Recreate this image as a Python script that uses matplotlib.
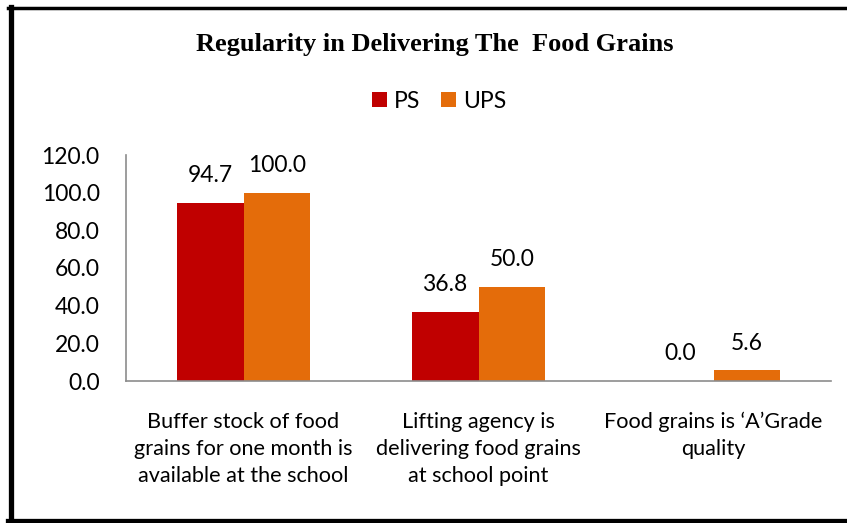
import matplotlib
matplotlib.use("Agg")
import matplotlib.pyplot as plt
from matplotlib.lines import Line2D
import numpy as np

categories = ["Buffer stock of food\ngrains for one month is\navailable at the school",
              "Lifting agency is\ndelivering food grains\nat school point",
              "Food grains is \u2018A\u2019Grade\nquality"]
ps = [94.7, 36.8, 0.0]
ups = [100.0, 50.0, 5.6]
yticks = [0, 20, 40, 60, 80, 100, 120]

red = "#C00000"
orange = "#E46C0A"
font = "Lato"

fig = plt.figure(figsize=(8.47, 5.23), dpi=100)
ax = fig.add_axes([126/847, 1 - 381/523, 705/847, 226/523])

x = np.arange(len(categories))
w = 0.285
b1 = ax.bar(x - w/2, ps, w, color=red, label="PS")
b2 = ax.bar(x + w/2, ups, w, color=orange, label="UPS")

for bars, vals in ((b1, ps), (b2, ups)):
    for r, v in zip(bars, vals):
        ax.annotate("%.1f" % v, (r.get_x() + r.get_width()/2, v),
                    xytext=(0, 12), textcoords="offset points",
                    ha="center", va="bottom", fontsize=16.5, family=font)

ax.set_xlim(-0.5, 2.5)
ax.set_ylim(0, 120)
ax.set_yticks(yticks)
ax.set_yticklabels(["%.1f" % t for t in yticks], fontsize=16.5, family=font)
ax.set_xticks(x)
ax.set_xticklabels(categories, fontsize=15.6, family=font, linespacing=1.45)
ax.tick_params(length=0)
ax.tick_params(axis="y", pad=19)
ax.tick_params(axis="x", pad=22)
for s in ("top", "right"):
    ax.spines[s].set_visible(False)
for s in ("left", "bottom"):
    ax.spines[s].set_color("#8C8C8C")
    ax.spines[s].set_linewidth(1.2)

fig.text(435/847, 1 - 44/523, "Regularity in Delivering The  Food Grains",
         ha="center", va="center", fontsize=19, fontweight="bold",
         family="Liberation Serif")

fig.legend(handles=[b1, b2], labels=["PS", "UPS"], loc="center",
           bbox_to_anchor=(439/847, 1 - 101/523), ncol=2, frameon=False,
           prop={"family": font, "size": 16.5}, handlelength=0.65,
           handleheight=0.65, handletextpad=0.3, columnspacing=0.9)

# outer frame
fig.add_artist(Line2D([10.5/847, 10.5/847], [0, 1 - 7/523], color="black",
                      lw=3.8, transform=fig.transFigure))
fig.add_artist(Line2D([8/847, 1], [1 - 7.5/523, 1 - 7.5/523], color="black",
                      lw=2.5, transform=fig.transFigure))
fig.add_artist(Line2D([8/847, 1], [2/523, 2/523], color="black",
                      lw=3.8, transform=fig.transFigure))

fig.savefig("out.png", dpi=100)
